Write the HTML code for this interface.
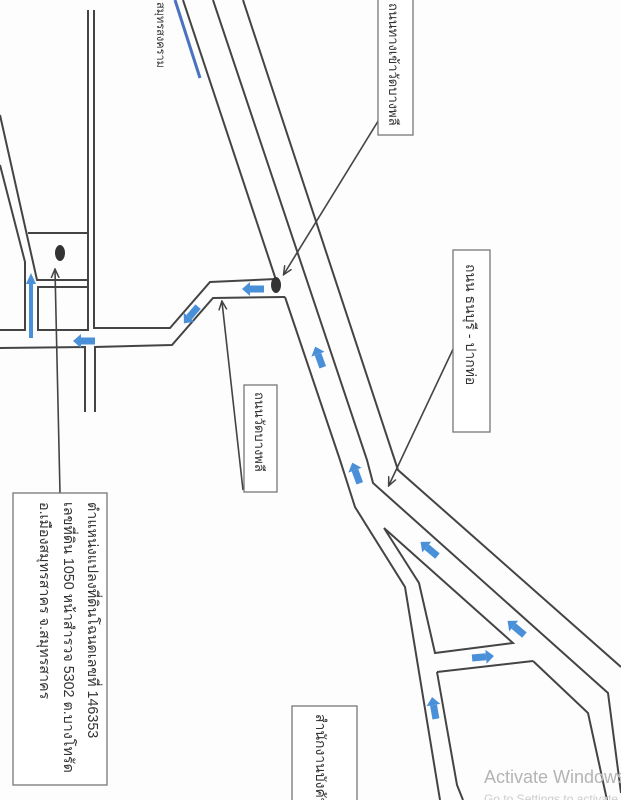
<!DOCTYPE html>
<html><head><meta charset="utf-8"><style>
html,body{margin:0;padding:0;background:#fdfdfd;}
svg{display:block}
text{font-family:"Liberation Sans","Noto Sans CJK SC",sans-serif;}
</style></head><body>
<svg width="621" height="800" viewBox="0 0 621 800" xmlns="http://www.w3.org/2000/svg">
<defs>
<marker id="ah" markerWidth="10" markerHeight="10" refX="8" refY="5" orient="auto" markerUnits="userSpaceOnUse">
<path d="M0,1 L9,5 L0,9" fill="none" stroke="#444" stroke-width="1.5"/></marker>
<g id="ba"><rect x="-11" y="-3.5" width="14" height="7" fill="#4a90d9"/><polygon points="3,-7 11,0 3,7" fill="#4a90d9"/></g>
</defs>
<g fill="none" stroke="#444" stroke-width="2">
<polyline points="183,0 276,280"/>
<polyline points="213,0 367,460 373,483 608,693 621,793"/>
<polyline points="243,0 398,470 621,667"/>
<polyline points="285,297 340,460 355,507 405,587 440,800"/>
<polyline points="384,528 513,643 435,653 419,583 384,528"/>
<polyline points="533,661 588,713 607,800"/>
<polyline points="437,672 533,661"/>
<polyline points="437,672 457,785 463,800"/>
<polyline points="276,279 210,282 170,328 94,328 94,10"/>
<polyline points="285,297 213,298 172,345 95,347 95,412"/>
<polyline points="85,412 85,347 0,348"/>
<polyline points="88,10 88,330 38,330 38,287 88,287"/>
<polyline points="0,115 37,280 88,280"/>
<polyline points="0,165 25,262 25,330 0,330"/>
<line x1="28" y1="233" x2="88" y2="233"/>
</g>
<ellipse cx="276" cy="285" rx="5" ry="8" fill="#333"/>
<ellipse cx="60" cy="253" rx="5" ry="8" fill="#333"/>
<line x1="175" y1="0" x2="200" y2="78" stroke="#4a72c0" stroke-width="3"/>
<line x1="31" y1="338" x2="31" y2="282" stroke="#4a90d9" stroke-width="4"/>
<polygon points="26,284 31,273 36,284" fill="#4a90d9"/>
<use href="#ba" transform="translate(253,289) rotate(180)"/>
<use href="#ba" transform="translate(191,315) rotate(130)"/>
<use href="#ba" transform="translate(84,341) rotate(180)"/>
<use href="#ba" transform="translate(319,357) rotate(-110)"/>
<use href="#ba" transform="translate(356,473) rotate(-110)"/>
<use href="#ba" transform="translate(429,549) rotate(-140)"/>
<use href="#ba" transform="translate(516,628) rotate(-140)"/>
<use href="#ba" transform="translate(483,657) rotate(-5)"/>
<use href="#ba" transform="translate(434,708) rotate(-100)"/>
<g stroke="#444" stroke-width="1.6" fill="none" marker-end="url(#ah)">
<line x1="380" y1="118" x2="284" y2="274"/>
<line x1="455" y1="345" x2="389" y2="485"/>
<line x1="243" y1="490" x2="222" y2="302"/>
<line x1="60" y1="493" x2="55" y2="270"/>
</g>
<g fill="#fff" stroke="#777" stroke-width="1.3">
<rect x="378" y="-2" width="35" height="137"/>
<rect x="453" y="250" width="37" height="182"/>
<rect x="244" y="385" width="33" height="107"/>
<rect x="13" y="493" width="94" height="292"/>
<rect x="292" y="706" width="65" height="100"/>
</g>
<g fill="#333" font-size="13">
<text transform="translate(389,3) rotate(90)" font-size="13">ถนนทางเข้าวัดบางพลี</text>
<text transform="translate(466,264) rotate(90)" font-size="14">ถนน ธนบุรี - ปากท่อ</text>
<text transform="translate(255,392) rotate(90)">ถนนวัดบางพลี</text>
<text transform="translate(157,2) rotate(90)" font-size="11">สมุทรสงคราม</text>
<text transform="translate(88,502) rotate(90)" font-size="14.3">ตำแหน่งแปลงที่ดินโฉนดเลขที่ 146353</text>
<text transform="translate(64,502) rotate(90)" font-size="14.3">เลขที่ดิน 1050 หน้าสำรวจ 5302 ต.บางโทรัด</text>
<text transform="translate(40,502) rotate(90)" font-size="14.3">อ.เมืองสมุทรสาคร จ.สมุทรสาคร</text>
<text transform="translate(316,714) rotate(90)" font-size="14">สำนักงานบังคับ</text>
</g>
<text x="484" y="783" fill="#b4b4b4" font-size="18">Activate Windows</text>
<text x="484" y="803" fill="#ccc" font-size="12">Go to Settings to activate</text>
</svg>
</body></html>
